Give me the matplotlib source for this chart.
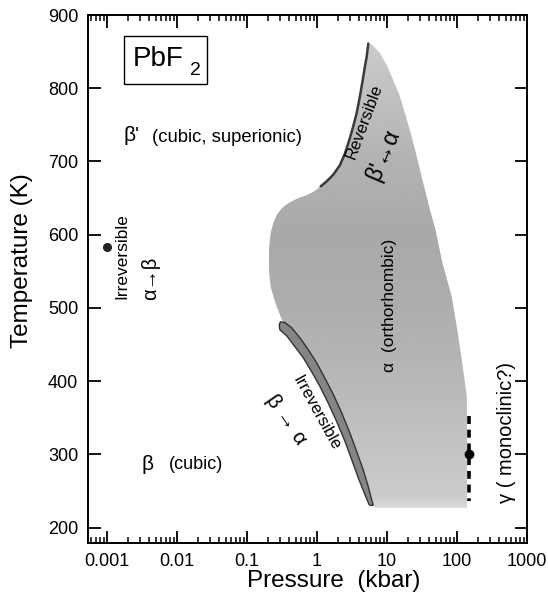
import numpy as np
import matplotlib
matplotlib.use("Agg")
import matplotlib.pyplot as plt
from matplotlib.patches import Polygon, Rectangle
from matplotlib.ticker import LogLocator, NullFormatter, FixedLocator, FixedFormatter

plt.rcParams['font.family'] = ['Liberation Sans', 'DejaVu Sans']

# ---- data (pressure in kbar, temperature in K) ----
# reversible beta' <-> alpha boundary (dark line), from top tip downwards
rev_P = [5.41, 5.13, 4.85, 4.50, 4.11, 3.69, 3.30, 2.89, 2.51, 2.13, 1.71, 1.38, 1.13]
rev_T = [861, 843, 830, 811, 789, 766, 748, 729, 711, 695, 682, 673, 666]
# left bulge of the alpha field, continuing from reversible line to band
bulge_P = [0.936, 0.713, 0.513, 0.389, 0.313, 0.266, 0.238, 0.218, 0.208, 0.206,
           0.208, 0.218, 0.238, 0.266, 0.303, 0.330]
bulge_T = [660, 654, 649, 643, 636, 627, 616, 602, 584, 566,
           548, 529, 516, 502, 488, 480]
# irreversible beta -> alpha band: upper (right) edge and lower (left) edge
band_up_P = [0.349, 0.435, 0.572, 0.752, 0.991, 1.30, 1.71, 2.25, 2.96, 3.69,
             4.58, 5.41, 6.04, 6.37]
band_up_T = [480, 473, 459, 443, 425, 404, 382, 357, 329, 304,
             279, 256, 238, 231]
band_lo_P = [0.300, 0.289, 0.296, 0.369, 0.485, 0.637, 0.839, 1.10, 1.45, 1.91,
             2.51, 3.13, 3.89, 4.85, 5.59, 6.04]
band_lo_T = [481, 476, 470, 462, 447, 432, 413, 393, 370, 345,
             318, 293, 268, 245, 231, 230]
# bottom and right edges of the alpha field (from bottom up to tip)
right_P = [6.6, 139, 139, 138, 119, 101, 84.0, 62.1, 49.3, 41.1, 36.9, 31.3,
           26.6, 22.5, 18.7, 15.3, 12.3, 10.1, 7.94, 6.04]
right_T = [227, 227, 347, 379, 425, 470, 516, 561, 607, 634, 652, 679,
           707, 734, 761, 789, 811, 830, 848, 860]
# gamma phase marker
gamma_P = [150]
gamma_T = [300]
gamma_dash_P = [150, 150]
gamma_dash_T = [352, 236]
# alpha -> beta irreversible point at ambient pressure
amb_P = [0.001]
amb_T = [583]

x_ticks = [0.001, 0.01, 0.1, 1, 10, 100, 1000]
x_ticklabels = ['0.001', '0.01', '0.1', '1', '10', '100', '1000']
y_ticks = [200, 300, 400, 500, 600, 700, 800, 900]

fig = plt.figure(figsize=(5.48, 6.02), dpi=100)
ax = fig.add_axes([88/548, 1-543/602, 439/548, 528/602])
ax.set_xscale('log')
ax.set_xlim(10**-3.27, 1000)
ax.set_ylim(179, 900)

# ---- alpha field with gradient ----
field_P = rev_P + bulge_P + band_up_P + right_P
field_T = rev_T + bulge_T + band_up_T + right_T
poly = Polygon(np.column_stack([field_P, field_T]), closed=True,
               facecolor='none', edgecolor='none', transform=ax.transData)
ax.add_patch(poly)
Tg = np.linspace(179, 900, 200)
levels_T = [179, 225, 240, 300, 400, 500, 600, 700, 800, 870, 900]
levels_v = [0.88, 0.86, 0.80, 0.77, 0.72, 0.68, 0.66, 0.70, 0.76, 0.80, 0.80]
vals = np.interp(Tg, levels_T, levels_v)
img = np.repeat(vals[:, None], 2, axis=1)
im = ax.imshow(img, cmap='gray', vmin=0, vmax=1, aspect='auto',
               extent=(0, 1, 0, 1), origin='lower', transform=ax.transAxes,
               interpolation='bilinear', zorder=1)
im.set_clip_path(poly)

# reversible line
ax.plot(rev_P, rev_T, color='#3a3a3a', lw=1.8, zorder=3, solid_capstyle='round')

# irreversible band
band = Polygon(np.column_stack([band_up_P + band_lo_P[::-1], band_up_T + band_lo_T[::-1]]),
               closed=True, facecolor='#858585', edgecolor='#333333', lw=1.0, zorder=3,
               joinstyle='round')
ax.add_patch(band)

# gamma marker
ax.plot(gamma_dash_P, gamma_dash_T, color='black', lw=2.6, ls=(0, (2.2, 1.6)), zorder=4)
ax.plot(gamma_P, gamma_T, 'o', color='black', ms=6, zorder=5)
ax.plot(amb_P, amb_T, 'o', color='#222222', ms=5.5, zorder=5)

# ---- texts ----
ax.text(0.00172, 736, "β'", fontsize=15, ha='left', va='center')
ax.text(0.00440, 733, "(cubic, superionic)", fontsize=13.3, ha='left', va='center')
ax.text(0.0031, 286, "β", fontsize=15, ha='left', va='center')
ax.text(0.0077, 286, "(cubic)", fontsize=13, ha='left', va='center')
ax.text(0.00162, 571, "Irreversible", fontsize=12.5, rotation=90, ha='center', va='center')
ax.text(0.0042, 541, "α→β", fontsize=14.5, rotation=90, ha='center', va='center')
ax.text(11.0, 504, "α  (orthorhombic)", fontsize=12.5, rotation=90, ha='center', va='center')
ax.text(4.69, 754, "Reversible", fontsize=12, rotation=69.5, ha='center', va='center',
        rotation_mode='anchor')
ax.text(8.9, 709, "β'↔α", fontsize=16.5, rotation=67, ha='center', va='center',
        rotation_mode='anchor')
ax.text(0.97, 356, "Irreversible", fontsize=12, rotation=-61, ha='center', va='center',
        rotation_mode='anchor')
ax.text(0.36, 347, "β → α", fontsize=15, rotation=-55, ha='center', va='center',
        rotation_mode='anchor')
ax.text(518, 330, "γ ( monoclinic?)", fontsize=14.5, rotation=90, ha='center', va='center')

# PbF2 label box
ax.add_patch(Rectangle((0.082, 0.869), 0.19, 0.091, transform=ax.transAxes,
                       facecolor='white', edgecolor='black', lw=1.0, zorder=6))
ax.text(0.103, 0.917, "PbF", fontsize=20, transform=ax.transAxes, ha='left', va='center', zorder=7)
ax.text(0.232, 0.895, "2", fontsize=14, transform=ax.transAxes, ha='left', va='center', zorder=7)

# ---- axes styling ----
ax.xaxis.set_major_locator(FixedLocator(x_ticks))
ax.xaxis.set_major_formatter(FixedFormatter(x_ticklabels))
ax.xaxis.set_minor_locator(LogLocator(base=10, subs=np.arange(2, 10), numticks=20))
ax.xaxis.set_minor_formatter(NullFormatter())
ax.set_yticks(y_ticks)
ax.tick_params(which='major', direction='in', length=9, width=1.3, top=True, right=True,
               labelsize=13, pad=7)
ax.tick_params(which='minor', direction='in', length=4.5, width=1.1, top=True, right=True)
for s in ax.spines.values():
    s.set_linewidth(1.4)
ax.set_xlabel("Pressure  (kbar)", fontsize=17.5)
ax.set_ylabel("Temperature (K)", fontsize=17.5)
ax.xaxis.set_label_coords(0.56, -0.052)
ax.yaxis.set_label_coords(-0.125, 0.534)

fig.savefig("out.png", dpi=100)
